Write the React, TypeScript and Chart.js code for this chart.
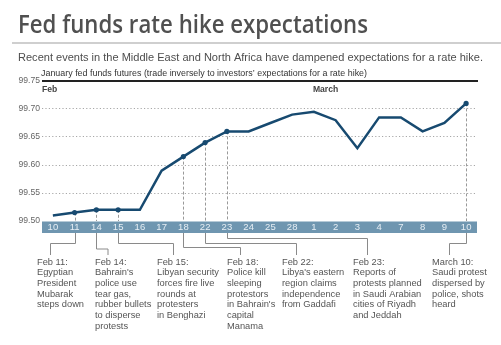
import React, { useEffect, useRef } from "react";
import { Chart, registerables } from "chart.js";

Chart.register(...registerables);

const categories = ["10", "11", "14", "15", "16", "17", "18", "22", "23", "24", "25", "28", "1", "2", "3", "4", "7", "8", "9", "10"];
const futures = [99.51, 99.515, 99.52, 99.52, 99.52, 99.59, 99.615, 99.64, 99.66, 99.66, 99.675, 99.69, 99.695, 99.68, 99.63, 99.685, 99.685, 99.66, 99.675, 99.71];
const yTicks = [99.5, 99.55, 99.6, 99.65, 99.7, 99.75];
const markedIndices = [1, 2, 3, 6, 7, 8, 19];

const eventTexts: string[][] = [
  ["Feb 11:", "Egyptian", "President", "Mubarak", "steps down"],
  ["Feb 14:", "Bahrain's", "police use", "tear gas,", "rubber bullets", "to disperse", "protests"],
  ["Feb 15:", "Libyan security", "forces fire live", "rounds at", "protesters", "in Benghazi"],
  ["Feb 18:", "Police kill", "sleeping", "protestors", "in Bahrain's", "capital", "Manama"],
  ["Feb 22:", "Libya's eastern", "region claims", "independence", "from Gaddafi"],
  ["Feb 23:", "Reports of", "protests planned", "in Saudi Arabian", "cities of Riyadh", "and Jeddah"],
  ["March 10:", "Saudi protest", "dispersed by", "police, shots", "heard"],
];
const eventIndices = [1, 2, 3, 6, 7, 8, 19];

// layout of connectors (elbow y, end x, text x)
const eventLayout = [
  { elbowY: 243, endX: 50, textX: 37 },
  { elbowY: 248.5, endX: 107.5, textX: 95 },
  { elbowY: 243, endX: 173, textX: 157 },
  { elbowY: 247, endX: 240, textX: 227 },
  { elbowY: 243, endX: 296, textX: 282 },
  { elbowY: 238, endX: 367, textX: 353 },
  { elbowY: 243, endX: 449, textX: 432 },
];

const LINE_COLOR = "#174a70";
const BAND_COLOR = "#6f96b0";

function fitText(ctx: CanvasRenderingContext2D, text: string, x: number, y: number, font: string, color: string, width?: number) {
  ctx.save();
  ctx.font = font;
  ctx.fillStyle = color;
  ctx.textBaseline = "alphabetic";
  ctx.textAlign = "left";
  if (width) {
    const w = ctx.measureText(text).width;
    const s = width / w;
    ctx.translate(x, y);
    ctx.scale(s, 1);
    ctx.fillText(text, 0, 0);
  } else {
    ctx.fillText(text, x, y);
  }
  ctx.restore();
}

const decorPlugin = {
  id: "decor",
  beforeDraw(chart: any) {
    const { ctx, chartArea } = chart;
    const y = chart.scales.y;
    ctx.save();
    ctx.fillStyle = "#ffffff";
    ctx.fillRect(0, 0, chart.width, chart.height);
    // band
    ctx.fillStyle = BAND_COLOR;
    ctx.fillRect(chartArea.left, chartArea.bottom + 0.5, chartArea.right - chartArea.left, 11.5);
    // top black line
    ctx.strokeStyle = "#222";
    ctx.lineWidth = 2;
    ctx.beginPath();
    const ty = y.getPixelForValue(99.75);
    ctx.moveTo(chartArea.left, ty);
    ctx.lineTo(chartArea.right + 1, ty);
    ctx.stroke();
    // title
    fitText(ctx, "Fed funds rate hike expectations", 18, 33, "600 25px 'Open Sans'", "#505050", 350);
    ctx.fillStyle = "#cfcfcf";
    ctx.fillRect(12, 42, 489, 2);
    fitText(ctx, "Recent events in the Middle East and North Africa have dampened expectations for a rate hike.", 18, 60.5, "11.6px 'Liberation Sans'", "#4d4d4d", 465);
    fitText(ctx, "January fed funds futures (trade inversely to investors\u2019 expectations for a rate hike)", 41, 75.5, "8.6px 'Liberation Sans'", "#333", 326);
    // Feb / March
    const x = chart.scales.x;
    fitText(ctx, "Feb", chartArea.left, 92, "bold 8.6px 'Liberation Sans'", "#444");
    fitText(ctx, "March", x.getPixelForValue(12) - 1, 92, "bold 8.6px 'Liberation Sans'", "#444");
    ctx.restore();
  },
  beforeDatasetsDraw(chart: any) {
    const { ctx, chartArea } = chart;
    const meta = chart.getDatasetMeta(0);
    ctx.save();
    ctx.strokeStyle = "#999";
    ctx.lineWidth = 1;
    ctx.setLineDash([3, 2]);
    markedIndices.forEach((i) => {
      const p = meta.data[i];
      ctx.beginPath();
      ctx.moveTo(Math.round(p.x) + 0.5, p.y);
      ctx.lineTo(Math.round(p.x) + 0.5, chartArea.bottom);
      ctx.stroke();
    });
    ctx.restore();
  },
  afterDraw(chart: any) {
    const { ctx, chartArea } = chart;
    const x = chart.scales.x;
    const bandBottom = chartArea.bottom + 12;
    ctx.save();
    // category labels inside band
    ctx.font = "9.5px 'Liberation Sans'";
    ctx.fillStyle = "#e6eef4";
    ctx.textAlign = "center";
    ctx.textBaseline = "middle";
    categories.forEach((c, i) => {
      ctx.fillText(c, x.getPixelForValue(i), chartArea.bottom + 6.5);
    });
    ctx.textAlign = "left";
    ctx.strokeStyle = "#8a8a8a";
    ctx.lineWidth = 1;
    eventIndices.forEach((idx, k) => {
      const L = eventLayout[k];
      const px = Math.round(x.getPixelForValue(idx)) + 0.5;
      ctx.beginPath();
      ctx.moveTo(px, bandBottom);
      ctx.lineTo(px, L.elbowY + 0.5);
      ctx.lineTo(L.endX + 0.5, L.elbowY + 0.5);
      ctx.lineTo(L.endX + 0.5, 255);
      ctx.stroke();
      ctx.font = "9.3px 'Liberation Sans'";
      ctx.fillStyle = "#555";
      ctx.textBaseline = "middle";
      eventTexts[k].forEach((line, j) => {
        ctx.fillText(line, L.textX, 262 + j * 10.7);
      });
    });
    ctx.restore();
  },
};

export default function App() {
  const ref = useRef<HTMLCanvasElement>(null);
  useEffect(() => {
    if (!ref.current) return;
    const chart = new Chart(ref.current, {
      type: "line",
      data: {
        labels: categories,
        datasets: [
          {
            data: futures,
            borderColor: LINE_COLOR,
            borderWidth: 2.5,
            backgroundColor: LINE_COLOR,
            pointRadius: futures.map((_, i) => (markedIndices.includes(i) ? 2.6 : 0)),
            pointBorderWidth: 0,
            tension: 0,
            clip: false as any,
          },
        ],
      },
      options: {
        responsive: false,
        animation: false,
        devicePixelRatio: 1,
        layout: { padding: { top: 81, left: 0, right: 24, bottom: 112 } },
        plugins: { legend: { display: false }, tooltip: { enabled: false }, title: { display: false } },
        scales: {
          x: {
            type: "category",
            offset: true,
            grid: { display: false },
            border: { display: false },
            ticks: { display: false },
            afterFit: (s: any) => {
              s.height = 12;
            },
          },
          y: {
            min: 99.5,
            max: 99.75,
            afterBuildTicks: (s: any) => {
              s.ticks = yTicks.map((v) => ({ value: v }));
            },
            grid: {
              drawTicks: false,
              color: (c: any) => {
                const v = c.tick ? c.tick.value : 0;
                return Math.abs(v - 99.5) < 1e-6 || Math.abs(v - 99.75) < 1e-6 ? "rgba(0,0,0,0)" : "#a8a8a8";
              },
              lineWidth: 1,
            },
            border: { display: false, dash: [1.2, 2.2] },
            ticks: {
              color: "#666",
              font: { family: "'Liberation Sans'", size: 8.6 },
              padding: 2,
              callback: (v: any) => Number(v).toFixed(2),
            },
            afterFit: (s: any) => {
              s.width = 42;
            },
          },
        },
      },
      plugins: [decorPlugin],
    });
    return () => chart.destroy();
  }, []);
  return (
    <div style={{ position: "fixed", left: 0, top: 0, width: 501, height: 345 }}>
      <canvas ref={ref} width={501} height={345} style={{ width: 501, height: 345, display: "block" }} />
    </div>
  );
}
